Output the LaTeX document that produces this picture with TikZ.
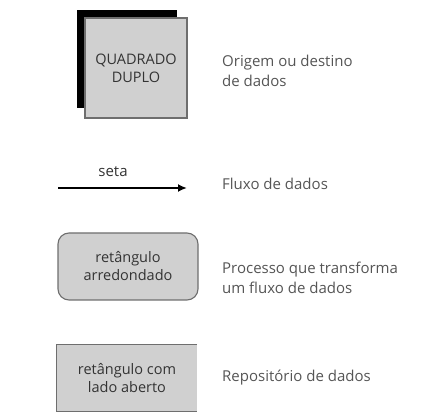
\documentclass[tikz,border=0pt]{standalone}
\usepackage{fontspec}
\setmainfont{Open Sans}
\usetikzlibrary{arrows.meta}
\definecolor{boxfill}{HTML}{D0D0D0}
\definecolor{boxline}{HTML}{6E6E6E}
\definecolor{boxtext}{HTML}{333333}
\definecolor{desctext}{HTML}{555555}
\tikzset{
  shapebox/.style={fill=boxfill, draw=boxline, line width=1.1pt, text=boxtext,
    align=center, font=\fontsize{14.5}{18}\selectfont, inner sep=0pt},
  desc/.style={anchor=west, align=left, text=desctext,
    font=\fontsize{15}{20}\selectfont, inner sep=0pt},
}
\begin{document}
\begin{tikzpicture}[x=1pt,y=-1pt]
\useasboundingbox (0,0) rectangle (440,417);
% double square
\node[fill=black, minimum width=100pt, minimum height=98pt, inner sep=0pt] (shadow) at (127,59) {};
\node[shapebox, minimum width=102pt, minimum height=100pt] (sq) at (136,68) {QUADRADO\\DUPLO};
\node[desc] (d1) at (222,71) {Origem ou destino\\de dados};
% arrow
\coordinate (a1) at (58,188);
\coordinate (a2) at (187,188);
\draw[line width=2pt, -{Latex[length=9pt,width=8pt]}] (a1) -- (a2);
\node[text=boxtext, font=\fontsize{15}{18}\selectfont, inner sep=0pt] (seta) at (113,172) {seta};
\node[desc] (d2) at (222,184) {Fluxo de dados};
% rounded rectangle
\node[shapebox, rounded corners=11pt, minimum width=140pt, minimum height=67pt] (rr) at (128,266.5) {retângulo\\arredondado};
\node[desc] (d3) at (222,278) {Processo que transforma\\um fluxo de dados};
% open rectangle
\node[fill=boxfill, text=boxtext, align=center, font=\fontsize{14.5}{18}\selectfont,
  minimum width=140pt, minimum height=66pt, inner sep=0pt] (op) at (127,378) {retângulo com\\lado aberto};
\draw[boxline, line width=1.1pt] (op.north east) -- (op.north west) -- (op.south west) -- (op.south east);
\node[desc] (d4) at (222,378) {Repositório de dados};
\end{tikzpicture}
\end{document}
